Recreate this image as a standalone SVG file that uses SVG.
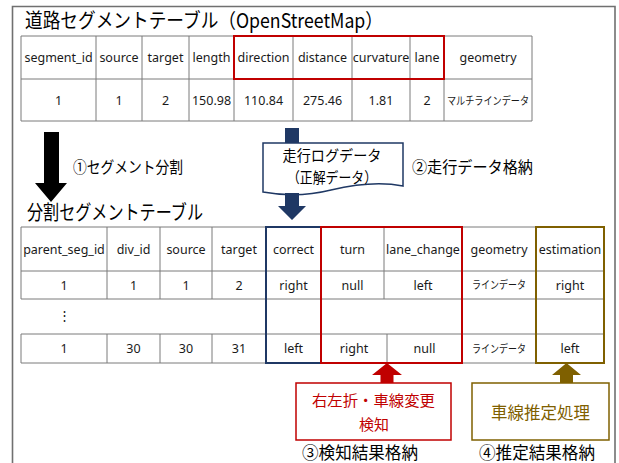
<svg xmlns="http://www.w3.org/2000/svg" width="619" height="463" viewBox="0 0 619 463">
<style>
.bg{fill:#ffffff}
.frame{fill:none;stroke:#707070;stroke-width:1.6}
.grid{stroke:#7a7a7a;stroke-width:1;fill:none}
.cell{font-family:"Noto Sans","Noto Sans CJK JP",sans-serif;font-size:12.5px;fill:#1a1a1a;text-anchor:middle}
.kana{font-family:"Noto Sans CJK JP",sans-serif;font-size:11px;fill:#1a1a1a;text-anchor:middle}
.title{font-family:"Noto Sans CJK JP",sans-serif;font-size:20px;fill:#000}
.lbl{font-family:"Noto Sans CJK JP",sans-serif;font-size:16px;fill:#000}
.box{font-family:"Noto Sans CJK JP",sans-serif;font-size:15px;text-anchor:middle}
.red{stroke:#C00000;stroke-width:2;fill:none}
.navy{stroke:#1F3864;stroke-width:2;fill:none}
.gold{stroke:#7F6000;stroke-width:2;fill:none}
</style>
<rect class="bg" x="0" y="0" width="619" height="463"/>
<path class="frame" d="M12.5,463 V6.5 H615 V463"/>

<g id="title1"><text class="title" x="25" y="28" textLength="358" lengthAdjust="spacingAndGlyphs">道路セグメントテーブル（OpenStreetMap）</text></g>

<g id="table1">
<path class="grid" d="M21,36 H532 V121 H21 Z M21,79 H532 M96,36 V121 M142,36 V121 M189,36 V121 M234,36 V121 M293,36 V121 M352,36 V121 M410,36 V121 M444,36 V121"/>
<text class="cell" x="58.5" y="62">segment_id</text>
<text class="cell" x="119" y="62">source</text>
<text class="cell" x="165.5" y="62">target</text>
<text class="cell" x="211.5" y="62">length</text>
<text class="cell" x="263.5" y="62">direction</text>
<text class="cell" x="322.5" y="62">distance</text>
<text class="cell" x="381" y="62">curvature</text>
<text class="cell" x="427" y="62">lane</text>
<text class="cell" x="488" y="62">geometry</text>
<text class="cell" x="58.5" y="105">1</text>
<text class="cell" x="119" y="105">1</text>
<text class="cell" x="165.5" y="105">2</text>
<text class="cell" x="211.5" y="105">150.98</text>
<text class="cell" x="263.5" y="105">110.84</text>
<text class="cell" x="322.5" y="105">275.46</text>
<text class="cell" x="381" y="105">1.81</text>
<text class="cell" x="427" y="105">2</text>
<text class="kana" x="488" y="104.5" textLength="82" lengthAdjust="spacingAndGlyphs">マルチラインデータ</text>
<rect class="red" x="234" y="36" width="210" height="43"/>
</g>

<g id="label1"><text class="lbl" x="73" y="173" textLength="110" lengthAdjust="spacingAndGlyphs">①セグメント分割</text></g>

<g id="runlog">
<path d="M263,143 H403 V186 C378,181 352,185 331,190 C307,196 285,196 263,192 Z" fill="#ffffff" stroke="#1F3864" stroke-width="1.5"/>
<text class="box" x="332" y="161" style="fill:#000" textLength="99" lengthAdjust="spacingAndGlyphs">走行ログデータ</text>
<text class="box" x="332" y="183" style="fill:#000" textLength="90" lengthAdjust="spacingAndGlyphs">（正解データ）</text>
</g>

<g id="label2"><text class="lbl" x="412" y="173" textLength="121" lengthAdjust="spacingAndGlyphs">②走行データ格納</text></g>

<g id="title2"><text class="title" x="27" y="220" textLength="176" lengthAdjust="spacingAndGlyphs">分割セグメントテーブル</text></g>

<g id="table2">
<path class="grid" d="M21,227 H604 M21,271 H604 M21,299 H604 M21,334 H604 M21,363 H604 M21,227 V299 M21,334 V363 M107,227 V299 M107,334 V363 M160,227 V299 M160,334 V363 M212,227 V299 M212,334 V363 M384,227 V299 M387,334 V363 M536,227 V299 M536,334 V363"/>
<text class="cell" x="64" y="253.5">parent_seg_id</text>
<text class="cell" x="133.5" y="253.5">div_id</text>
<text class="cell" x="186" y="253.5">source</text>
<text class="cell" x="239" y="253.5">target</text>
<text class="cell" x="293.5" y="253.5">correct</text>
<text class="cell" x="352.5" y="253.5">turn</text>
<text class="cell" x="423" y="253.5">lane_change</text>
<text class="cell" x="499" y="253.5">geometry</text>
<text class="cell" x="570" y="253.5">estimation</text>
<text class="cell" x="64" y="289.5">1</text>
<text class="cell" x="133.5" y="289.5">1</text>
<text class="cell" x="186" y="289.5">1</text>
<text class="cell" x="239" y="289.5">2</text>
<text class="cell" x="293.5" y="289.5">right</text>
<text class="cell" x="352.5" y="289.5">null</text>
<text class="cell" x="423" y="289.5">left</text>
<text class="kana" x="499" y="289" textLength="54" lengthAdjust="spacingAndGlyphs">ラインデータ</text>
<text class="cell" x="570" y="289.5">right</text>
<text class="cell" x="64" y="320">⋮</text>
<text class="cell" x="64" y="353">1</text>
<text class="cell" x="133.5" y="353">30</text>
<text class="cell" x="186" y="353">30</text>
<text class="cell" x="239" y="353">31</text>
<text class="cell" x="293.5" y="353">left</text>
<text class="cell" x="354" y="353">right</text>
<text class="cell" x="424.5" y="353">null</text>
<text class="kana" x="499" y="352.5" textLength="54" lengthAdjust="spacingAndGlyphs">ラインデータ</text>
<text class="cell" x="570" y="353">left</text>
<rect class="navy" x="266" y="227" width="55" height="136"/>
<rect class="red" x="321" y="227" width="141" height="136"/>
<rect class="gold" x="536" y="227" width="68" height="136"/>
</g>

<g id="detect">
<rect x="296" y="383" width="155" height="57" fill="#ffffff" stroke="#C00000" stroke-width="1.5"/>
<text class="box" x="373.5" y="406" style="fill:#C00000" textLength="123" lengthAdjust="spacingAndGlyphs">右左折・車線変更</text>
<text class="box" x="374" y="430" style="fill:#C00000">検知</text>
</g>

<g id="estimate">
<rect x="472" y="383" width="137" height="57" fill="#ffffff" stroke="#7F6000" stroke-width="1.5"/>
<text class="box" x="540.5" y="419" style="fill:#7F6000;font-size:17px" textLength="99" lengthAdjust="spacingAndGlyphs">車線推定処理</text>
</g>

<g id="label3"><text class="lbl" x="302" y="459" style="font-size:17px" textLength="116" lengthAdjust="spacingAndGlyphs">③検知結果格納</text></g>
<g id="label4"><text class="lbl" x="479" y="459" style="font-size:17px" textLength="116" lengthAdjust="spacingAndGlyphs">④推定結果格納</text></g>

<g id="connectors">
<path d="M44,132 H59 V183 H67 L51,202 L35,183 H44 Z" fill="#000000"/>
<path d="M285,128 H299 V143 H285 Z" fill="#1F3864"/>
<path d="M285,193 H299 V206 H306 L292,220 L278,206 H285 Z" fill="#1F3864"/>
<path d="M380.5,383 V375 H372 L387,363 L402,375 H393.5 V383 Z" fill="#C00000"/>
<path d="M560,383 V375 H552 L566.5,363 L581,375 H573 V383 Z" fill="#7F6000"/>
</g>
</svg>
